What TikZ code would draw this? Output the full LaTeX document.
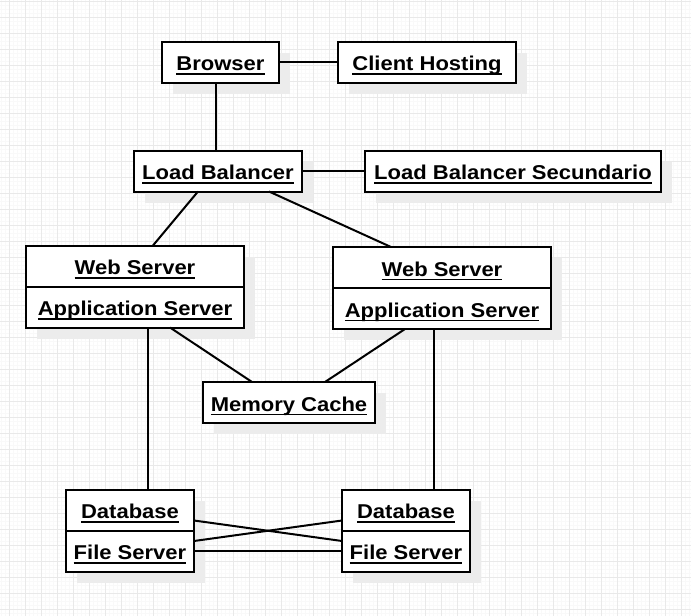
\documentclass[tikz,border=0pt]{standalone}
\usepackage{fontspec}
\newfontfamily\boxfont{Liberation Sans Bold}[FakeStretch=1.1]
\usetikzlibrary{shadows}
\newcommand{\ulname}[1]{\setbox0\hbox{#1}\rlap{\rule[-4pt]{\wd0}{1.5pt}}\box0}
\tikzset{umlbox/.style={
        draw, line width=2pt, fill=white, inner sep=0pt, outer sep=0pt,
        minimum height=41pt, text height=17pt, text depth=0pt,
        font=\boxfont\fontsize{20}{24}\selectfont,
        drop shadow={shadow xshift=11pt, shadow yshift=-11pt, fill=gray!15, opacity=1}
  }
}
\tikzset{link/.style={line width=2pt}}
\tikzset{gridmajor/.style={draw=gray!17, line width=1pt}}
\tikzset{gridminor/.style={draw=gray!5, line width=0.5pt}}

\begin{document}
\begin{tikzpicture}[x=1pt,y=-1pt]
\useasboundingbox (0,0) rectangle (691,616);
% Grid
\foreach \gx in {0,...,172} \draw[gridminor] (1+4*\gx,0) -- (1+4*\gx,616);
\foreach \gy in {0,...,154} \draw[gridminor] (0,1+4*\gy) -- (691,1+4*\gy);
\foreach \gx in {0,...,42} \draw[gridmajor] (9.5+16*\gx,0) -- (9.5+16*\gx,616);
\foreach \gy in {0,...,38} \draw[gridmajor] (0,1.5+16*\gy) -- (691,1.5+16*\gy);
% Browser
\node[umlbox, minimum width=117pt] (browser) at (220.5,62) {\ulname{Browser}};
\node[umlbox, minimum width=178pt] (client) at (427,62) {\ulname{Client Hosting}};
%% Load balancers
\node[umlbox, minimum width=168pt] (lb) at (218,171) {\ulname{Load Balancer}};
\node[umlbox, minimum width=296pt] (lbs) at (513,171) {\ulname{Load Balancer Secundario}};
% Web servers
\node[umlbox, minimum width=218pt] (ws1) at (135,266) {\ulname{Web Server}};
\node[umlbox, minimum width=218pt, anchor=north] (as1) at (ws1.south) {\ulname{Application Server}};
\node[umlbox, minimum width=218pt] (ws2) at (442,267.5) {\ulname{Web Server}};
\node[umlbox, minimum width=218pt, anchor=north] (as2) at (ws2.south) {\ulname{Application Server}};
% Cache
\node[umlbox, minimum width=172pt] (mc) at (289,402.5) {\ulname{Memory Cache}};
% Databases
\node[umlbox, minimum width=128pt] (db1) at (130,510) {\ulname{Database}};
\node[umlbox, minimum width=128pt, anchor=north] (fs1) at (db1.south) {\ulname{File Server}};
\node[umlbox, minimum width=128pt] (db2) at (406,510) {\ulname{Database}};
\node[umlbox, minimum width=128pt, anchor=north] (fs2) at (db2.south) {\ulname{File Server}};
% Lines
\draw[link] (browser.east) -- (client.west);
\draw[link] ([xshift=-4.5pt]browser.south) -- ([xshift=-2pt]lb.north);
\draw[link] (lb.east) -- (lbs.west);
\draw[link] ([xshift=-20pt]lb.south) -- ([xshift=18pt]ws1.north);
\draw[link] ([xshift=51pt]lb.south) -- ([xshift=-51pt]ws2.north);
% Cache lines
\draw[link] ([xshift=35pt]as1.south) -- ([xshift=-37pt]mc.north);
\draw[link] ([xshift=-37pt]as2.south) -- ([xshift=36pt]mc.north);
% Database lines
\draw[link] ([xshift=13pt]as1.south) -- ([xshift=18pt]db1.north);
\draw[link] ([xshift=-8pt]as2.south) -- ([xshift=28pt]db2.north);
\draw[link] ([yshift=-10.5pt]db1.east) -- ([yshift=10pt]fs2.west);
\draw[link] ([yshift=10pt]fs1.east) -- ([yshift=-10.5pt]db2.west);
\draw[link] (fs1.east) -- (fs2.west);
\end{tikzpicture}
\end{document}
